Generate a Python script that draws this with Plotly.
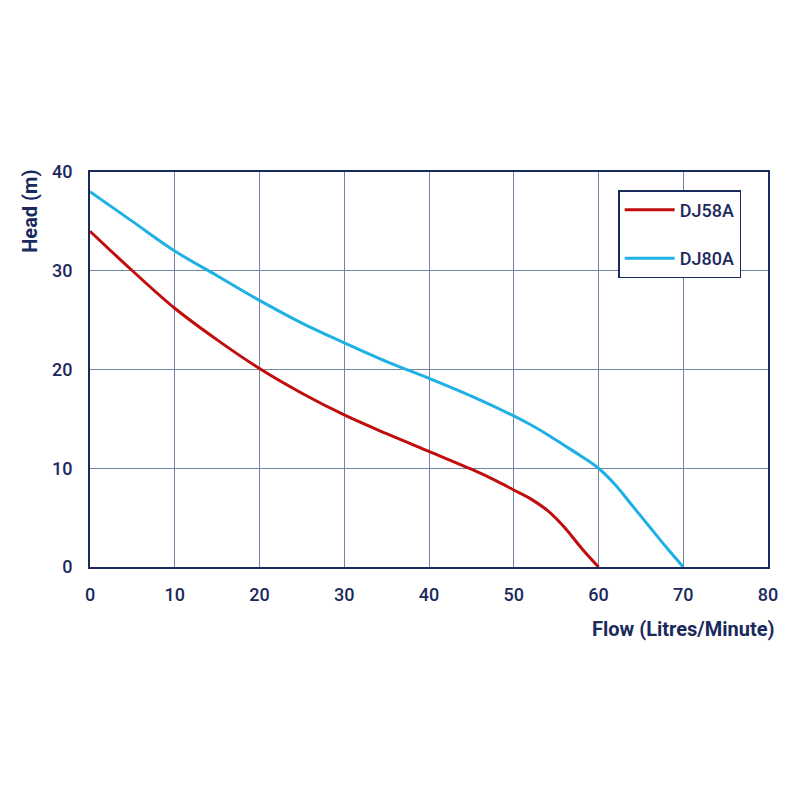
import plotly.graph_objects as go

flow_dj58a = [0, 5, 10, 15, 20, 25, 30, 35, 40, 45, 48, 50, 52, 54, 56, 58, 60]
head_dj58a = [34, 30, 26.2, 23, 20.1, 17.6, 15.4, 13.5, 11.7, 9.9, 8.7, 7.8, 6.9, 5.7, 4.0, 1.9, 0]

flow_dj80a = [0, 5, 10, 15, 20, 25, 30, 35, 40, 45, 50, 52, 54, 56, 58, 60, 62, 64, 66, 68, 70]
head_dj80a = [38, 35, 32, 29.5, 27, 24.7, 22.7, 20.8, 19.1, 17.3, 15.3, 14.4, 13.4, 12.3, 11.2, 10, 8.3, 6.2, 4.1, 2.0, 0]

x_ticks = [0, 10, 20, 30, 40, 50, 60, 70, 80]
y_ticks = [0, 10, 20, 30, 40]

NAVY = "#1b2a5c"
GRID = "#7384a3"
RED = "#c00d0d"
BLUE = "#1fb0e6"
FONT = "Roboto, sans-serif"

fig = go.Figure()
fig.add_trace(go.Scatter(x=flow_dj58a, y=head_dj58a, mode="lines", name="DJ58A",
                         line=dict(color=RED, width=3, shape="spline", smoothing=1.0),
                         legendgroup="a"))
fig.add_trace(go.Scatter(x=flow_dj80a, y=head_dj80a, mode="lines", name="DJ80A",
                         line=dict(color=BLUE, width=3, shape="spline", smoothing=1.0),
                         legendgroup="b"))

fig.update_layout(
    width=800, height=800,
    margin=dict(l=82, r=40, t=164, b=241),
    paper_bgcolor="white", plot_bgcolor="white",
    font=dict(family=FONT, color=NAVY, size=18, weight=500),
    showlegend=True,
    legend=dict(x=0.779, y=0.954, xanchor="left", yanchor="top",
                bgcolor="white", bordercolor=NAVY, borderwidth=1.5,
                font=dict(family=FONT, size=18, color=NAVY, weight=500),
                tracegroupgap=22, itemwidth=50),
    xaxis=dict(range=[0, 80], tickvals=x_ticks, showgrid=True, gridcolor=GRID, gridwidth=1,
               zeroline=False, showline=True, linecolor=NAVY, linewidth=2, mirror=True,
               ticks="", ticklabelstandoff=10, tickfont=dict(size=18, color=NAVY, weight=500),
               fixedrange=True),
    yaxis=dict(range=[0, 40], tickvals=y_ticks, showgrid=True, gridcolor=GRID, gridwidth=1,
               zeroline=False, showline=True, linecolor=NAVY, linewidth=2, mirror=True,
               ticks="", ticklabelstandoff=12, tickfont=dict(size=18, color=NAVY, weight=500),
               fixedrange=True),
    annotations=[
        dict(text="<b>Flow (Litres/Minute)</b>", xref="paper", yref="paper",
             x=1.014, y=-0.122, xanchor="right", yanchor="top", showarrow=False,
             font=dict(size=20, color=NAVY, family=FONT)),
        dict(text="<b>Head (m)</b>", xref="paper", yref="paper",
             x=-0.0885, y=1.012, xanchor="center", yanchor="top", textangle=-90,
             showarrow=False, font=dict(size=20, color=NAVY, family=FONT)),
    ],
)

fig.write_html("out.html")
